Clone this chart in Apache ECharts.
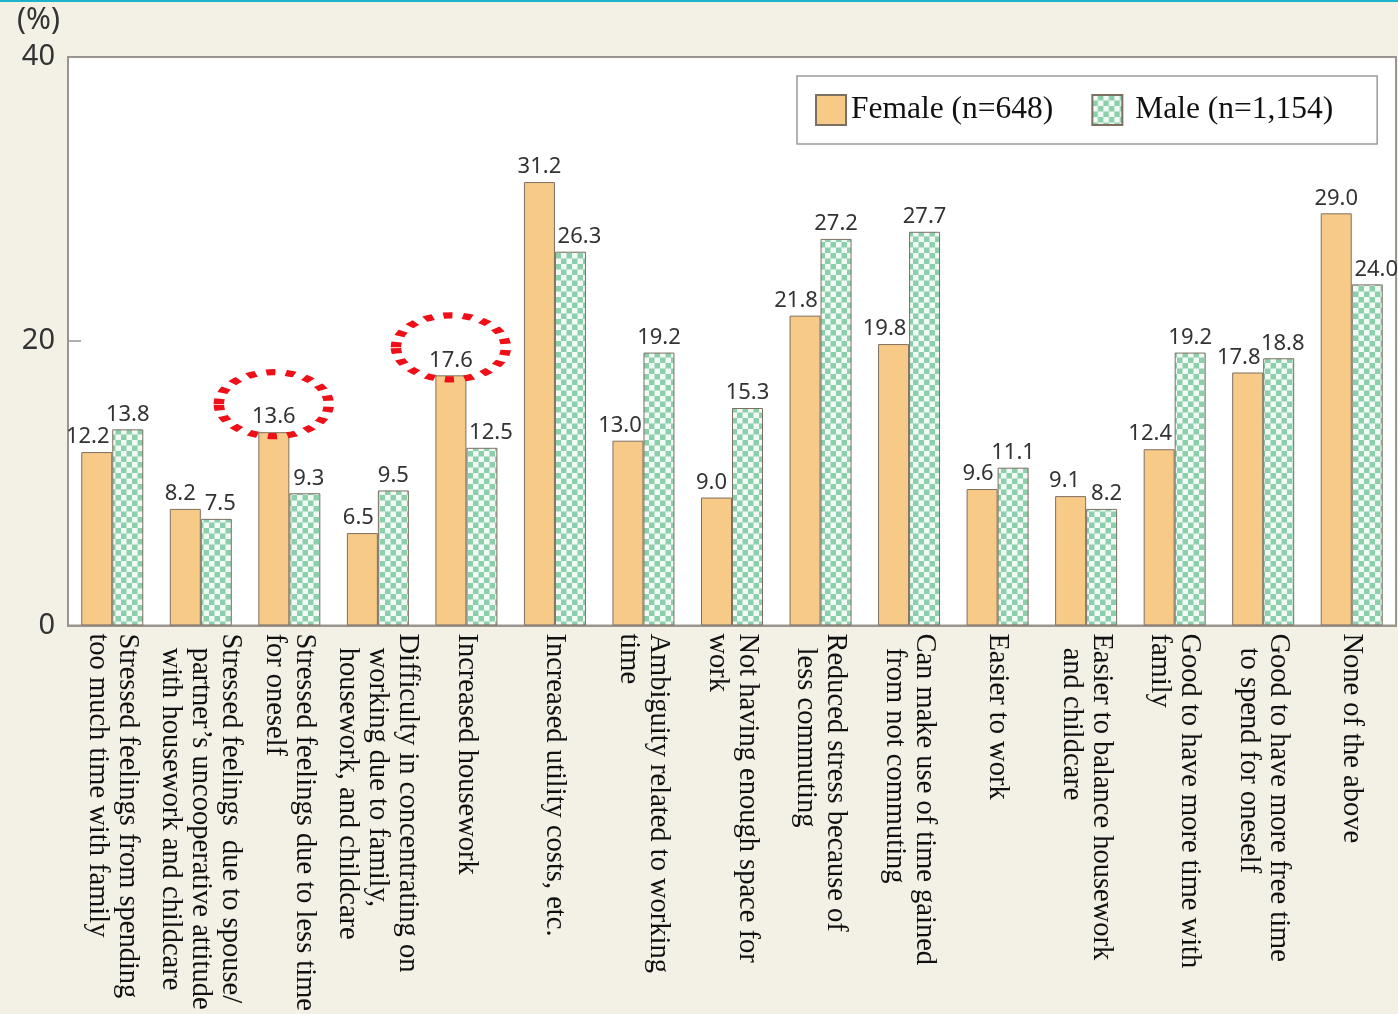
<!DOCTYPE html>
<html>
<head>
<meta charset="utf-8">
<script src="https://cdn.jsdelivr.net/npm/echarts@6/dist/echarts.min.js"></script>
<style>
  html, body { margin: 0; padding: 0; background: #f3f0e6; }
  #chart { width: 1398px; height: 1014px; }
</style>
</head>
<body>
<div id="chart"></div>
<script>
// categories (multi-line, leading spaces mimic the indented lines)
const categories = [
  'Stressed feelings from spending\ntoo much time with family',
  'Stressed feelings  due to spouse/\n  partner\u2019s uncooperative attitude\n  with housework and childcare',
  'Stressed feelings due to less time\nfor oneself',
  'Difficulty in concentrating on\n  working due to family,\n  housework, and childcare',
  'Increased housework',
  'Increased utility costs, etc.',
  'Ambiguity related to working\ntime',
  'Not having enough space for\nwork',
  'Reduced stress because of\n  less commuting',
  'Can make use of time gained\n  from not commuting',
  'Easier to work',
  'Easier to balance housework\n  and childcare',
  'Good to have more time with\nfamily',
  'Good to have more free time\n  to spend for oneself',
  'None of the above'
]
const female = [12.2, 8.2, 13.6, 6.5, 17.6, 31.2, 13.0, 9.0, 21.8, 19.8, 9.6, 9.1, 12.4, 17.8, 29.0]
const male = [13.8, 7.5, 9.3, 9.5, 12.5, 26.3, 19.2, 15.3, 27.2, 27.7, 11.1, 8.2, 19.2, 18.8, 24.0]
const yTicks = [0, 20, 40]
// categories that are circled in the original
const circled = [2, 4]

// small label nudges so crowded labels sit like the original
const femaleShift = [-9, -5, 0, -4, 0, 0, -8, -5, -9, -9, -4, -6, -9, -9, 0]
const maleShift = [0, 4, 4, 0, 9, 9, 0, 0, 0, 0, 0, 5, 0, 4, 9]

// checker pattern for the male bars
function checker () {
    const c = document.createElement('canvas')
    c.width = 11
    c.height = 11
    const ctx = c.getContext('2d')
    ctx.fillStyle = '#8ccfab'
    ctx.fillRect(0, 0, 11, 11)
    ctx.fillStyle = '#f2faf5'
    ctx.fillRect(0, 0, 5.5, 5.5)
    ctx.fillRect(5.5, 5.5, 5.5, 5.5)
    return c
}

const valueLabel = {
    show: true,
    position: 'top',
    distance: 4,
    fontFamily: 'Noto Sans',
    fontSize: 22,
    color: '#333',
    formatter: p => p.value.toFixed(1)
}

const myChart = echarts.init(document.getElementById('chart'), null, { renderer: 'canvas' })

const option = {
    backgroundColor: '#f3f0e6',
    animation: false,
    graphic: [{
        type: 'rect',
        left: 0,
        top: 0,
        shape: { width: 1398, height: 2 },
        style: { fill: '#1bb3c9' }
    }],
    legend: {
        left: 797,
        top: 76,
        padding: [18, 44, 18, 18],
        itemGap: 38,
        itemWidth: 30,
        itemHeight: 30,
        borderColor: '#9a9a9a',
        borderWidth: 1.5,
        icon: 'rect',
        formatter: name => name.indexOf('Male') === 0 ? ' ' + name : name,
        textStyle: {
            fontFamily: 'Liberation Serif',
            fontSize: 31.5,
            color: '#111'
        }
    },
    grid: {
        left: 68,
        right: 2,
        top: 57,
        bottom: 387,
        show: true,
        backgroundColor: '#ffffff',
        borderColor: '#9a9590',
        borderWidth: 2
    },
    xAxis: {
        type: 'category',
        data: categories,
        axisLine: { lineStyle: { color: '#9a9590', width: 2 } },
        axisTick: { inside: true, length: 10, lineStyle: { color: '#9a9590', width: 1.5 } },
        axisLabel: {
            interval: 0,
            rotate: -90,
            margin: 8,
            fontFamily: 'Liberation Serif',
            fontSize: 28.5,
            lineHeight: 30,
            color: '#111'
        }
    },
    yAxis: {
        type: 'value',
        min: 0,
        max: 40,
        interval: 20,
        name: '(%)',
        nameLocation: 'end',
        nameGap: 22,
        nameTextStyle: {
            fontFamily: 'Noto Sans',
            fontSize: 30,
            color: '#333',
            align: 'right',
            padding: [0, 8, 0, 0]
        },
        axisLine: { show: true, lineStyle: { color: '#9a9590', width: 2 } },
        axisTick: { show: true, inside: true, length: 13, lineStyle: { color: '#9a9590', width: 1.5 } },
        splitLine: { show: false },
        axisLabel: {
            margin: 13,
            fontFamily: 'Noto Sans',
            fontSize: 29,
            color: '#333',
            customValues: yTicks
        }
    },
    series: [
        {
            name: 'Female (n=648)',
            type: 'bar',
            barWidth: 31,
            barGap: '0%',
            data: female.map((v, i) => ({ value: v, label: { offset: [femaleShift[i], 0] } })),
            itemStyle: { color: '#f8ca88', borderColor: '#7d6f62', borderWidth: 1 },
            label: valueLabel,
            markPoint: {
                symbol: 'path://M0,32 A56,32 0 1,1 112,32 A56,32 0 1,1 0,32 Z',
                symbolSize: [110, 64],
                symbolOffset: [0, -28],
                silent: true,
                label: { show: false },
                itemStyle: {
                    color: 'rgba(0,0,0,0)',
                    borderColor: '#ee0f18',
                    borderWidth: 8,
                    borderType: [7, 8]
                },
                data: circled.map(i => ({ coord: [i, female[i]] }))
            }
        },
        {
            name: 'Male (n=1,154)',
            type: 'bar',
            barWidth: 31,
            barGap: '0%',
            data: male.map((v, i) => ({ value: v, label: { offset: [maleShift[i], 0] } })),
            itemStyle: {
                color: { image: checker(), repeat: 'repeat' },
                borderColor: '#7d6f62',
                borderWidth: 1
            },
            label: valueLabel
        }
    ]
}
option && myChart.setOption(option)
</script>
</body>
</html>
